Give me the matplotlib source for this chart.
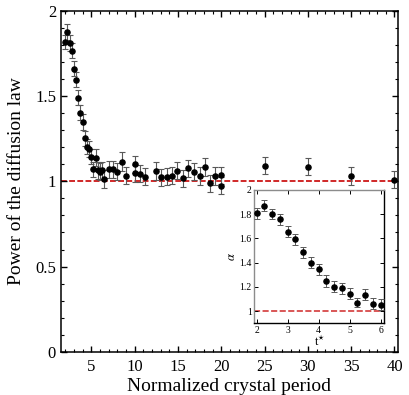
import numpy as np
import matplotlib
matplotlib.use("Agg")
from matplotlib import pyplot as plt
from matplotlib.ticker import MultipleLocator

plt.rcParams['font.family'] = ['Liberation Serif', 'DejaVu Serif']
plt.rcParams['mathtext.fontset'] = 'stix'

# dane - wykres glowny
period = [2.0, 2.25, 2.5, 2.75, 3.0, 3.25, 3.5, 3.75, 4.0, 4.25, 4.5, 4.75,
          5.0, 5.25, 5.5, 5.75, 6.0, 6.25, 6.5, 7.0, 7.5, 8.0, 8.5, 9.0,
          10.0, 10.0, 10.67, 11.25, 12.5, 13.1, 13.7, 14.3, 14.9, 15.6,
          16.2, 16.9, 17.5, 18.1, 18.7, 19.3, 20.0, 20.0,
          25.0, 30.0, 35.0, 40.0]
power = [1.815, 1.875, 1.81, 1.765, 1.66, 1.595, 1.49, 1.402, 1.348, 1.252,
         1.203, 1.19, 1.145, 1.071, 1.138, 1.064, 1.056, 1.066, 1.012, 1.071,
         1.071, 1.057, 1.115, 1.033, 1.10, 1.047, 1.043, 1.027, 1.06, 1.024,
         1.027, 1.033, 1.063, 1.018, 1.076, 1.055, 1.031, 1.084, 0.989, 1.031,
         1.035, 0.974, 1.092, 1.086, 1.031, 1.008]
power_err = [0.042, 0.049, 0.045, 0.045, 0.045, 0.045, 0.045, 0.045, 0.045,
             0.045, 0.045, 0.045, 0.045, 0.045, 0.05, 0.05, 0.05, 0.05, 0.054,
             0.05, 0.05, 0.05, 0.055, 0.05, 0.05, 0.05, 0.05, 0.05, 0.052,
             0.05, 0.05, 0.05, 0.05, 0.05, 0.05, 0.05, 0.05, 0.05, 0.05, 0.05,
             0.05, 0.05, 0.05, 0.05, 0.05, 0.05]

# dane - wstawka
t_star = [2.0, 2.25, 2.5, 2.75, 3.0, 3.25, 3.5, 3.75, 4.0, 4.25, 4.5, 4.75,
          5.0, 5.25, 5.5, 5.75, 6.0]
alpha = [1.808, 1.871, 1.80, 1.758, 1.657, 1.592, 1.487, 1.40, 1.345, 1.252,
         1.20, 1.19, 1.145, 1.071, 1.137, 1.063, 1.055]
alpha_err = [0.045, 0.045, 0.04, 0.045, 0.045, 0.045, 0.045, 0.045, 0.045,
             0.05, 0.045, 0.045, 0.045, 0.04, 0.045, 0.045, 0.045]

RED = '#d02828'
ERR = '0.35'

fig = plt.figure(figsize=(4.09, 3.95), dpi=100)
ax = fig.add_axes([0.149, 0.109, 0.824, 0.864])

ax.axhline(1.0, color=RED, lw=1.4, dashes=(3, 1.2), zorder=1)
ax.errorbar(period, power, yerr=power_err, fmt='o', color='black', ms=3.7,
            ecolor=ERR, elinewidth=0.8, capsize=2, capthick=0.8, zorder=3)

ax.set_xlim(1.5, 40.4)
ax.set_ylim(0, 2)
ax.xaxis.set_major_locator(MultipleLocator(5))
ax.xaxis.set_minor_locator(MultipleLocator(1))
ax.yaxis.set_major_locator(MultipleLocator(0.5))
ax.yaxis.set_minor_locator(MultipleLocator(0.1))
ax.set_xticks([5, 10, 15, 20, 25, 30, 35, 40])
ax.set_yticks([0, 0.5, 1, 1.5, 2])
ax.set_yticklabels(['0', '0.5', '1', '1.5', '2'])
ax.tick_params(which='both', direction='in', top=True, right=True, labelsize=12)
ax.tick_params(which='major', length=4.5, width=1)
ax.tick_params(which='minor', length=2.2, width=0.8)
ax.tick_params(axis='x', pad=5)
for s in ax.spines.values():
    s.set_linewidth(1.1)
ax.set_xlabel('Normalized crystal period', fontsize=14, labelpad=2)
ax.set_ylabel('Power of the diffusion law', fontsize=14, labelpad=7)

# wstawka
ins = fig.add_axes([0.622, 0.1815, 0.318, 0.3375])
ins.axhline(1.0, color=RED, lw=1.1, dashes=(4, 1.6), zorder=1)
ins.errorbar(t_star, alpha, yerr=alpha_err, fmt='o', color='black', ms=3.7,
             ecolor=ERR, elinewidth=0.7, capsize=2, capthick=0.7, zorder=3)
ins.set_xlim(1.93, 6.12)
ins.set_ylim(0.9, 2.0)
ins.set_xticks([2, 3, 4, 5, 6])
ins.set_yticks([1, 1.2, 1.4, 1.6, 1.8, 2])
ins.set_yticklabels(['1', '1.2', '1.4', '1.6', '1.8', '2'])
ins.tick_params(direction='in', top=True, right=True, labelsize=7,
                length=3, width=0.7, pad=2)
ins.spines['left'].set_color('0.55')
ins.spines['top'].set_color('0.55')
for s in ins.spines.values():
    s.set_linewidth(1.0)
ins.set_xlabel(r't$^{\star}$', fontsize=9, labelpad=0)
ins.set_ylabel(r'$\alpha$', fontsize=9, labelpad=1)

fig.savefig('out.png', dpi=100)
